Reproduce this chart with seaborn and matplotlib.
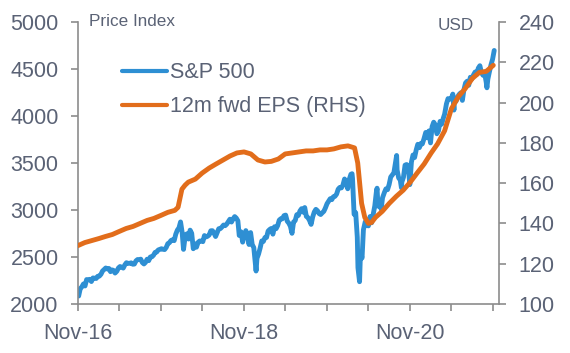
import pandas as pd
import seaborn as sns
import matplotlib.pyplot as plt

# S&P 500 index level (roughly weekly)
spx_dates = [
    '2016-11-04', '2016-11-11', '2016-11-18', '2016-11-25', '2016-12-02', '2016-12-09', '2016-12-16', '2016-12-23', '2016-12-30',
    '2017-01-06', '2017-01-13', '2017-01-20', '2017-01-27', '2017-02-03', '2017-02-10', '2017-02-17', '2017-02-24',
    '2017-03-03', '2017-03-10', '2017-03-17', '2017-03-24', '2017-03-31', '2017-04-07', '2017-04-13', '2017-04-21', '2017-04-28',
    '2017-05-05', '2017-05-12', '2017-05-19', '2017-05-26', '2017-06-02', '2017-06-09', '2017-06-16', '2017-06-23', '2017-06-30',
    '2017-07-07', '2017-07-14', '2017-07-21', '2017-07-28', '2017-08-04', '2017-08-11', '2017-08-18', '2017-08-25',
    '2017-09-01', '2017-09-08', '2017-09-15', '2017-09-22', '2017-09-29', '2017-10-06', '2017-10-13', '2017-10-20', '2017-10-27',
    '2017-11-03', '2017-11-10', '2017-11-17', '2017-11-24', '2017-12-01', '2017-12-08', '2017-12-15', '2017-12-22', '2017-12-29',
    '2018-01-05', '2018-01-12', '2018-01-19', '2018-01-26', '2018-02-02', '2018-02-08', '2018-02-16', '2018-02-23',
    '2018-03-02', '2018-03-09', '2018-03-16', '2018-03-23', '2018-03-29', '2018-04-06', '2018-04-13', '2018-04-20', '2018-04-27',
    '2018-05-04', '2018-05-11', '2018-05-18', '2018-05-25', '2018-06-01', '2018-06-08', '2018-06-15', '2018-06-22', '2018-06-29',
    '2018-07-06', '2018-07-13', '2018-07-20', '2018-07-27', '2018-08-03', '2018-08-10', '2018-08-17', '2018-08-24', '2018-08-31',
    '2018-09-07', '2018-09-14', '2018-09-21', '2018-09-28', '2018-10-05', '2018-10-11', '2018-10-19', '2018-10-26',
    '2018-11-02', '2018-11-09', '2018-11-16', '2018-11-23', '2018-11-30', '2018-12-07', '2018-12-14', '2018-12-21', '2018-12-24', '2018-12-28',
    '2019-01-04', '2019-01-11', '2019-01-18', '2019-01-25', '2019-02-01', '2019-02-08', '2019-02-15', '2019-02-22',
    '2019-03-01', '2019-03-08', '2019-03-15', '2019-03-22', '2019-03-29', '2019-04-05', '2019-04-12', '2019-04-18', '2019-04-26',
    '2019-05-03', '2019-05-10', '2019-05-17', '2019-05-24', '2019-05-31', '2019-06-07', '2019-06-14', '2019-06-21', '2019-06-28',
    '2019-07-05', '2019-07-12', '2019-07-19', '2019-07-26', '2019-08-02', '2019-08-09', '2019-08-16', '2019-08-23', '2019-08-30',
    '2019-09-06', '2019-09-13', '2019-09-20', '2019-09-27', '2019-10-04', '2019-10-11', '2019-10-18', '2019-10-25',
    '2019-11-01', '2019-11-08', '2019-11-15', '2019-11-22', '2019-11-29', '2019-12-06', '2019-12-13', '2019-12-20', '2019-12-27',
    '2020-01-03', '2020-01-10', '2020-01-17', '2020-01-24', '2020-01-31', '2020-02-07', '2020-02-14', '2020-02-19', '2020-02-21', '2020-02-28',
    '2020-03-06', '2020-03-13', '2020-03-16', '2020-03-20', '2020-03-23', '2020-03-27', '2020-04-03', '2020-04-09', '2020-04-17', '2020-04-24',
    '2020-05-01', '2020-05-08', '2020-05-15', '2020-05-22', '2020-05-29', '2020-06-05', '2020-06-08', '2020-06-12', '2020-06-19', '2020-06-26',
    '2020-07-02', '2020-07-10', '2020-07-17', '2020-07-24', '2020-07-31', '2020-08-07', '2020-08-14', '2020-08-21', '2020-08-28',
    '2020-09-02', '2020-09-04', '2020-09-11', '2020-09-18', '2020-09-23', '2020-09-25', '2020-10-02', '2020-10-09', '2020-10-16', '2020-10-23', '2020-10-30',
    '2020-11-06', '2020-11-13', '2020-11-20', '2020-11-27', '2020-12-04', '2020-12-11', '2020-12-18', '2020-12-24', '2020-12-31',
    '2021-01-08', '2021-01-15', '2021-01-22', '2021-01-29', '2021-02-05', '2021-02-12', '2021-02-19', '2021-02-26',
    '2021-03-05', '2021-03-12', '2021-03-19', '2021-03-26', '2021-04-01', '2021-04-09', '2021-04-16', '2021-04-23', '2021-04-30',
    '2021-05-07', '2021-05-12', '2021-05-14', '2021-05-21', '2021-05-28', '2021-06-04', '2021-06-11', '2021-06-18', '2021-06-25',
    '2021-07-02', '2021-07-09', '2021-07-16', '2021-07-23', '2021-07-30', '2021-08-06', '2021-08-13', '2021-08-20', '2021-08-27',
    '2021-09-03', '2021-09-10', '2021-09-17', '2021-09-24', '2021-10-01', '2021-10-04', '2021-10-08', '2021-10-15', '2021-10-22', '2021-10-29',
    '2021-11-05',
]
spx_values = [
    2085, 2164, 2182, 2213, 2192, 2260, 2258, 2263, 2239,
    2277, 2275, 2271, 2295, 2297, 2316, 2351, 2367,
    2383, 2373, 2378, 2344, 2363, 2356, 2329, 2349, 2384,
    2399, 2391, 2382, 2416, 2439, 2432, 2433, 2438, 2423,
    2425, 2459, 2473, 2472, 2477, 2441, 2426, 2443,
    2477, 2461, 2500, 2502, 2519, 2549, 2553, 2575, 2581,
    2588, 2582, 2579, 2602, 2642, 2652, 2676, 2683, 2674,
    2743, 2786, 2810, 2873, 2762, 2581, 2732, 2747,
    2691, 2786, 2752, 2588, 2641, 2604, 2656, 2670, 2670,
    2663, 2728, 2713, 2721, 2735, 2779, 2780, 2755, 2718,
    2760, 2801, 2802, 2819, 2840, 2833, 2850, 2875, 2902,
    2872, 2905, 2930, 2914, 2885, 2729, 2768, 2658,
    2723, 2781, 2736, 2633, 2760, 2633, 2600, 2417, 2351, 2486,
    2532, 2596, 2671, 2665, 2707, 2708, 2776, 2793,
    2804, 2743, 2822, 2801, 2834, 2893, 2907, 2905, 2940,
    2946, 2881, 2860, 2826, 2752, 2873, 2887, 2950, 2942,
    2990, 3014, 2977, 3026, 2932, 2919, 2889, 2847, 2926,
    2979, 3007, 2992, 2962, 2952, 2970, 2986, 3023,
    3067, 3093, 3120, 3110, 3141, 3146, 3169, 3221, 3240,
    3235, 3265, 3330, 3295, 3226, 3328, 3380, 3386, 3338, 2954,
    2972, 2711, 2386, 2305, 2237, 2541, 2489, 2790, 2875, 2837,
    2831, 2930, 2864, 2955, 3044, 3194, 3232, 3041, 3098, 3009,
    3130, 3185, 3225, 3216, 3271, 3351, 3373, 3397, 3508,
    3580, 3427, 3341, 3319, 3237, 3298, 3348, 3477, 3484, 3465, 3270,
    3509, 3585, 3558, 3638, 3699, 3663, 3709, 3703, 3756,
    3825, 3768, 3841, 3714, 3887, 3934, 3907, 3811,
    3842, 3943, 3913, 3975, 4020, 4129, 4185, 4180, 4181,
    4233, 4063, 4174, 4156, 4204, 4230, 4247, 4166, 4281,
    4352, 4370, 4327, 4412, 4395, 4437, 4468, 4442, 4509,
    4535, 4459, 4433, 4455, 4357, 4300, 4391, 4471, 4545, 4605,
    4697,
]

# 12m forward EPS in USD (right hand scale)
eps_dates = [
    '2016-11-01', '2016-12-01', '2017-01-01', '2017-02-01', '2017-03-01', '2017-04-01', '2017-05-01', '2017-06-01',
    '2017-07-01', '2017-08-01', '2017-09-01', '2017-10-01', '2017-11-01', '2017-12-01', '2018-01-01', '2018-01-15',
    '2018-02-01', '2018-02-15', '2018-03-01', '2018-04-01', '2018-05-01', '2018-06-01', '2018-07-01', '2018-08-01',
    '2018-09-01', '2018-10-01', '2018-11-01', '2018-12-01', '2019-01-01', '2019-02-01', '2019-03-01', '2019-04-01',
    '2019-05-01', '2019-06-01', '2019-07-01', '2019-08-01', '2019-09-01', '2019-10-01', '2019-11-01', '2019-12-01',
    '2020-01-01', '2020-02-01', '2020-03-01', '2020-03-15', '2020-04-01', '2020-04-15', '2020-05-01', '2020-05-15',
    '2020-06-01', '2020-07-01', '2020-08-01', '2020-09-01', '2020-10-01', '2020-11-01', '2020-12-01', '2021-01-01',
    '2021-02-01', '2021-03-01', '2021-04-01', '2021-05-01', '2021-06-01', '2021-07-01', '2021-08-01', '2021-09-01',
    '2021-10-01', '2021-11-01',
]
eps_values = [
    129.0, 130.5, 131.5, 132.5, 133.5, 134.5, 136.0, 137.5,
    138.5, 140.0, 141.5, 142.5, 144.0, 145.5, 146.5, 148.0,
    157.0, 159.0, 160.5, 162.0, 165.0, 167.5, 169.5, 171.5,
    173.5, 175.0, 175.5, 174.5, 171.5, 170.5, 170.8, 172.0,
    174.5, 175.0, 175.5, 176.0, 176.0, 176.5, 176.5, 177.0,
    178.0, 178.5, 177.5, 170.0, 150.0, 143.0, 140.0, 140.5,
    143.0, 146.0, 150.0, 153.5, 156.5, 160.5, 165.0, 169.5,
    175.0, 179.5, 186.0, 197.0, 203.0, 207.0, 212.0, 215.0,
    215.5, 218.5,
]

x_tick_dates = ['2016-11-01', '2017-05-01', '2017-11-01', '2018-05-01', '2018-11-01', '2019-05-01',
                '2019-11-01', '2020-05-01', '2020-11-01', '2021-05-01', '2021-11-01']
x_tick_labels = ['Nov-16', '', '', '', 'Nov-18', '', '', '', 'Nov-20', '', '']
left_ticks = [2000, 2500, 3000, 3500, 4000, 4500, 5000]
right_ticks = [100, 120, 140, 160, 180, 200, 220, 240]

BLUE = '#2E8FD3'
ORANGE = '#E26D1B'
GREY = '#8C8C8C'
TEXT = '#5A6275'

sns.set_theme(style='ticks')
plt.rcParams['font.family'] = ['Liberation Sans', 'DejaVu Sans']

spx = pd.DataFrame({'date': pd.to_datetime(spx_dates), 'value': spx_values})
eps = pd.DataFrame({'date': pd.to_datetime(eps_dates), 'value': eps_values})

fig = plt.figure(figsize=(5.7, 3.53), dpi=100)
ax = fig.add_axes([0.1368, 0.1388, 0.7386, 0.7989])
ax2 = ax.twinx()

sns.lineplot(data=spx, x='date', y='value', ax=ax, color=BLUE, lw=3.5, label='S&P 500', legend=False)
sns.lineplot(data=eps, x='date', y='value', ax=ax2, color=ORANGE, lw=3.5, label='12m fwd EPS (RHS)', legend=False)

ax.set_xlim(pd.Timestamp('2016-11-01'), pd.Timestamp('2021-11-26'))
ax.set_ylim(2000, 5000)
ax2.set_ylim(100, 240)
ax.set_yticks(left_ticks)
ax2.set_yticks(right_ticks)
ax.set_xticks(pd.to_datetime(x_tick_dates))
ax.set_xticklabels(x_tick_labels)

for a in (ax, ax2):
    a.set_xlabel('')
    a.set_ylabel('')
    a.spines['top'].set_visible(False)
    for s in a.spines.values():
        s.set_color(GREY)
        s.set_linewidth(1.2)
    a.tick_params(colors=GREY, labelcolor=TEXT, labelsize=15.5, length=5, width=1.2, pad=9)
ax.spines['right'].set_visible(False)
ax2.spines['left'].set_visible(False)
ax2.spines['bottom'].set_visible(False)

handles = ax.get_lines() + ax2.get_lines()
leg = ax2.legend(handles, [h.get_label() for h in handles], loc='upper left', bbox_to_anchor=(0.1045, 0.858),
                 frameon=False, fontsize=15.5, handlelength=2.1, handletextpad=0.15, labelspacing=0.62,
                 borderpad=0, borderaxespad=0, labelcolor=TEXT)
for line in leg.get_lines():
    line.set_linewidth(3)

fig.text(89 / 570, 1 - 22 / 353, 'Price Index', ha='left', va='center', fontsize=12.3, color=TEXT)
fig.text(474 / 570, 1 - 26 / 353, 'USD', ha='right', va='center', fontsize=12.3, color=TEXT)

fig.savefig('out.png', dpi=100)
